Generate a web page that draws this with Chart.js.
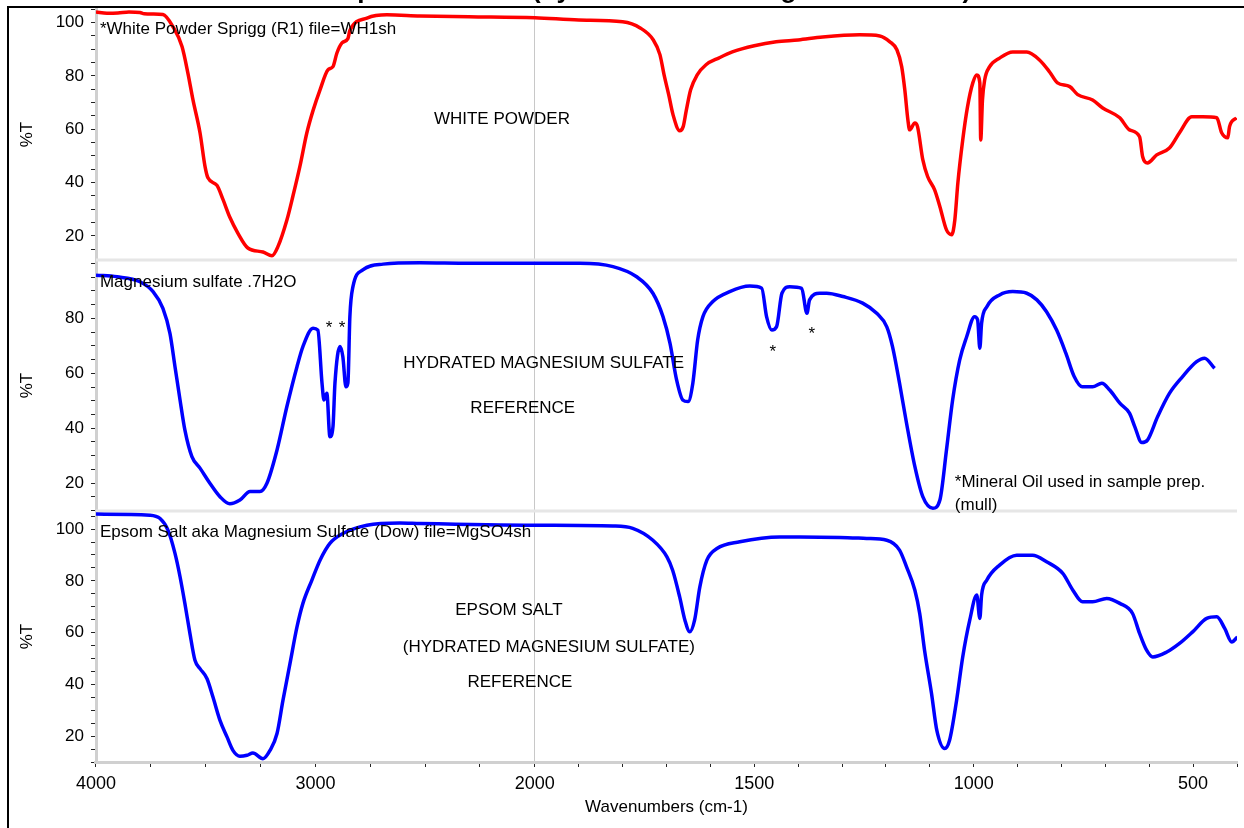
<!DOCTYPE html>
<html>
<head>
<meta charset="utf-8">
<script src="https://cdn.jsdelivr.net/npm/chart.js@4.4.0/dist/chart.umd.min.js"></script>
<style>
  html, body { margin: 0; padding: 0; background: #fff; overflow: hidden; }
  #wrap { position: relative; width: 1244px; height: 828px; }
</style>
</head>
<body>
<div id="wrap"><canvas id="spectres" width="1244" height="828"></canvas></div>
<script>
// ---- Spectre 1 : poudre blanche (rouge) ----
const powderWn = [4000, 3950, 3900, 3850, 3800, 3780, 3740, 3695, 3649, 3608, 3581, 3558, 3526, 3503, 3490, 3449, 3421, 3390, 3353, 3308, 3239, 3198, 3171, 3130, 3103, 3071, 3039, 3011, 2979, 2943, 2920, 2902, 2879, 2852, 2843, 2765, 2674, 2524, 2300, 2000,
  1900, 1800, 1760, 1730, 1715, 1705, 1695, 1685, 1670, 1662, 1655, 1645, 1630, 1610, 1580, 1550, 1500, 1450, 1400, 1344, 1260, 1214, 1191, 1175, 1164, 1157, 1150, 1146, 1134, 1128, 1116, 1105, 1089, 1077, 1062, 1050, 1043, 1036, 1025, 1014, 1002, 993, 986, 984, 980, 975, 964, 941, 911, 879, 850, 827, 809, 781, 763, 729, 706, 667, 645, 622, 615, 604, 583, 554, 531, 503, 478, 446, 435, 421, 417, 401];
const powderT = [104.0, 103.5, 103.6, 104.0, 103.8, 103.3, 103.2, 103.0, 98.4, 91, 81, 71, 58.7, 46, 41.8, 39, 33.6, 27, 21, 15.5, 14, 12.6, 16, 26, 34.8, 46, 58.7, 67, 74.8, 82.3, 83.5, 88.6, 92.4, 94, 97, 101.7, 102.9, 102.5, 102.2, 101.8,
  101, 100.3, 98, 93.5, 88, 80, 73, 65.4, 59.5, 61, 67, 74.8, 80.4, 84.2, 86.8, 89, 91.3, 92.8, 93.5, 94.6, 95.4, 95, 92.8, 89.8, 83.4, 74.8, 63.6, 59.8, 62.4, 61, 48.6, 42.3, 37.3, 31, 22.3, 20.5, 26, 40, 56, 68.5, 77.4, 80.4, 77.4, 56, 71, 78.5, 83.4, 86.7, 89, 89, 86, 81.5, 77.4, 76, 73, 71, 68, 64.3, 59.8, 57.2, 49.7, 47.4, 50.4, 53, 58.7, 64.7, 64.7, 64.3, 58.7, 56.8, 61, 64.3];

// ---- Spectre 2 : sulfate de magnésium 7H2O ----
const mgso4Wn = [4000, 3904, 3800, 3740, 3695, 3663, 3640, 3617, 3595, 3563, 3526, 3481, 3435, 3390, 3344, 3298, 3253, 3221, 3175, 3130, 3084, 3057, 3011, 2989, 2970, 2961, 2948, 2934, 2920, 2911, 2888, 2875, 2861, 2852, 2843, 2829, 2784, 2692, 2524, 2300, 2000,
  1897, 1822, 1768, 1731, 1708, 1692, 1677, 1663, 1651, 1640, 1629, 1617, 1595, 1556, 1510, 1483, 1472, 1460, 1449, 1437, 1419, 1392, 1380, 1374, 1351, 1335, 1298, 1253, 1221, 1198, 1185, 1169, 1153, 1134, 1116, 1093, 1077, 1062, 1048, 1032, 1016, 998, 991, 986, 982, 970, 941, 911, 879, 856, 834, 811, 790, 771, 753, 729, 708, 690, 667, 645, 633, 617, 604, 581, 554, 524, 492, 474, 451];
const mgso4T = [95.7, 95.1, 93.3, 89.7, 83.6, 74.5, 62.4, 50.3, 39.4, 29.7, 25.5, 20, 15.1, 12.5, 13.9, 17, 17, 20, 32.1, 47.9, 62.4, 69.7, 76.4, 75.7, 56.4, 50.3, 52.7, 36.9, 40.6, 56.4, 69.7, 66, 55.1, 56.5, 80.6, 91.5, 97.6, 99.7, 100.2, 100, 100,
  100, 98.8, 95.1, 89.1, 80.6, 70.9, 57.6, 50.3, 49.7, 56.4, 72.1, 80.6, 86, 89.7, 91.7, 90.9, 80.6, 75.7, 77, 89.1, 91.5, 90.9, 81.8, 86.7, 89.1, 89.1, 87.9, 85.5, 81.8, 76.9, 69.7, 56.4, 41.8, 26, 15.1, 10.9, 13.9, 32.1, 50.3, 64.8, 73.3, 80.6, 79.4, 69.1, 78.2, 84.2, 88.5, 89.7, 89.1, 86.7, 82.4, 75.7, 67.3, 58.8, 55.1, 55.1, 56.4, 53.9, 49.1, 45.5, 40.6, 34.8, 35.7, 44.2, 52.7, 58.8, 64.2, 65.5, 61.8];

// ---- Spectre 3 : sel d'Epsom ----
const epsomWn = [4000, 3754, 3708, 3672, 3640, 3617, 3595, 3572, 3549, 3526, 3494, 3467, 3435, 3403, 3376, 3344, 3312, 3285, 3239, 3207, 3175, 3148, 3116, 3084, 3057, 3016, 2979, 2934, 2875, 2765, 2615, 2524, 2000,
  1822, 1777, 1731, 1699, 1686, 1670, 1658, 1647, 1636, 1624, 1608, 1585, 1533, 1442, 1396, 1305, 1244, 1198, 1169, 1153, 1134, 1123, 1112, 1096, 1084, 1066, 1055, 1039, 1025, 1009, 993, 986, 982, 970, 941, 902, 866, 834, 797, 774, 752, 729, 697, 667, 638, 622, 606, 592, 560, 531, 501, 469, 446, 428, 412, 399];
const epsomT = [105.8, 105.4, 104.1, 99.6, 90.6, 81.6, 71.3, 59.7, 49.3, 46.1, 42.2, 35.1, 26.1, 19.7, 14.5, 12.2, 12.6, 13.5, 11.3, 14.5, 21, 33.8, 48, 62.2, 71.3, 80.3, 88, 94.5, 98.3, 101.5, 102.4, 102.2, 101.5,
  101.2, 100.3, 95.7, 89.3, 84.1, 73.8, 64.8, 60.3, 64.8, 77.7, 88, 92.5, 95.1, 97, 97, 96.8, 96.4, 95.7, 91.9, 85.4, 76.4, 67.4, 53.2, 36.4, 22.2, 15.2, 18.4, 33.8, 50.6, 64.8, 74.5, 65.5, 74.5, 80.3, 86.1, 89.9, 89.9, 87.4, 82.9, 76.4, 71.9, 71.9, 73.2, 71.3, 67.4, 59.7, 53.2, 50.6, 52.5, 55.8, 60.3, 65.5, 66.1, 61.6, 56.4, 58.3];

// ---- Graduations ----
const xTickLabels = [4000, 3000, 2000, 1500, 1000, 500];
const yTickLabels = [20, 40, 60, 80, 100];

// l'axe est compressé x2 au-dessus de 2000 cm-1
function versAxe(w) { return w <= 2000 ? w : 2000 + (w - 2000) / 2; }
function depuisAxe(u) { return u <= 2000 ? u : 2000 + (u - 2000) * 2; }

const xTicks = [];
for (let w = 4000; w > 2000; w -= 250) xTicks.push(w);
for (let w = 2000; w >= 400; w -= 100) xTicks.push(w);

function serie(wn, t) { return wn.map((w, i) => ({ x: versAxe(w), y: t[i] })); }

function axeY(min, max, weight) {
  return {
    type: 'linear', position: 'left', stack: 'panneaux', stackWeight: 1, weight,
    min, max,
    afterBuildTicks: s => {
      const t = [];
      for (let v = Math.ceil(min / 5) * 5; v <= max; v += 5) t.push({ value: v });
      s.ticks = t;
    },
    afterFit: s => { s.width = 88; s.paddingTop = 0; s.paddingBottom = 0; },
    ticks: {
      autoSkip: false, padding: 7, color: '#000', font: { size: 17 },
      callback: v => (yTickLabels.includes(v) && v <= max - 3) ? v : ''
    },
    grid: { drawOnChartArea: false, tickLength: 5, tickColor: '#222' },
    border: { color: '#d0d0d0', width: 3 },
    title: { display: true, text: '%T', color: '#000', font: { size: 17 }, padding: { top: 9, bottom: 2 } }
  };
}

const textes = [
  ['*White Powder Sprigg (R1) file=WH1sh', 3982, 97.6, 'yA', 'left'],
  ['WHITE POWDER', 2150, 63.9, 'yA', 'center'],
  ['Magnesium sulfate .7H2O', 3982, 93.2, 'yB', 'left'],
  ['*', 2938, 76.5, 'yB', 'center'],
  ['*', 2879, 76.5, 'yB', 'center'],
  ['HYDRATED MAGNESIUM SULFATE', 1980, 63.7, 'yB', 'center'],
  ['REFERENCE', 2055, 47.4, 'yB', 'center'],
  ['*', 1458, 67.8, 'yB', 'center'],
  ['*', 1369, 74.3, 'yB', 'center'],
  ['*Mineral Oil used in sample prep.', 1043, 20.5, 'yB', 'left'],
  ['(mull)', 1043, 12.1, 'yB', 'left'],
  ['Epsom Salt aka Magnesium Sulfate (Dow) file=MgSO4sh', 3982, 98.8, 'yC', 'left'],
  ['EPSOM SALT', 2118, 68.7, 'yC', 'center'],
  ['(HYDRATED MAGNESIUM SULFATE)', 1968, 54.4, 'yC', 'center'],
  ['REFERENCE', 2068, 40.8, 'yC', 'center']
];

const decor = {
  id: 'decor',
  beforeDatasetsDraw(chart) {
    const ctx = chart.ctx, a = chart.chartArea;
    ctx.save();
    ctx.strokeStyle = '#e6e6e6';
    ctx.lineWidth = 3;
    ['yB', 'yC'].forEach(id => {
      const y = chart.scales[id].top;
      ctx.beginPath(); ctx.moveTo(a.left, y); ctx.lineTo(a.right, y); ctx.stroke();
    });
    ctx.restore();
  },
  afterDraw(chart) {
    const ctx = chart.ctx, sx = chart.scales.x;
    ctx.save();
    ctx.fillStyle = '#000';
    ctx.font = '17px "Liberation Sans", Arial, sans-serif';
    ctx.textBaseline = 'middle';
    textes.forEach(([txt, w, v, id, align]) => {
      ctx.textAlign = align;
      ctx.fillText(txt, sx.getPixelForValue(versAxe(w)), chart.scales[id].getPixelForValue(v));
    });
    // titre coupé en haut
    ctx.font = 'bold 26px "Liberation Sans", Arial, sans-serif';
    ctx.textBaseline = 'alphabetic';
    ctx.textAlign = 'left';
    const avant = 'White Powder IR Spectral Match ';
    const titre = avant + '(by Infrared Matching to Standards)';
    ctx.fillText(titre, 532 - ctx.measureText(avant).width, -2);
    // cadre
    ctx.strokeStyle = '#000';
    ctx.lineWidth = 2;
    ctx.beginPath();
    ctx.moveTo(1244, 7); ctx.lineTo(8, 7); ctx.lineTo(8, 828);
    ctx.stroke();
    ctx.restore();
  }
};

window.onload = () => {
  Chart.defaults.font.family = '"Liberation Sans", Arial, sans-serif';
  new Chart(document.getElementById('spectres'), {
    type: 'line',
    data: {
      datasets: [
        { data: serie(powderWn, powderT), yAxisID: 'yA', borderColor: '#ff0000' },
        { data: serie(mgso4Wn, mgso4T), yAxisID: 'yB', borderColor: '#0000ff' },
        { data: serie(epsomWn, epsomT), yAxisID: 'yC', borderColor: '#0000ff' }
      ]
    },
    options: {
      responsive: false,
      animation: false,
      devicePixelRatio: 1,
      parsing: false,
      layout: { padding: { left: 8, top: 9, right: 7, bottom: 0 } },
      elements: {
        point: { radius: 0 },
        line: { borderWidth: 3.5, tension: 0.3, cubicInterpolationMode: 'monotone', fill: false }
      },
      plugins: { legend: { display: false }, tooltip: { enabled: false } },
      scales: {
        x: {
          type: 'linear', reverse: true,
          min: versAxe(400), max: versAxe(4000),
          afterBuildTicks: s => { s.ticks = xTicks.map(w => ({ value: versAxe(w) })); },
          afterFit: s => { s.height = 66; },
          ticks: {
            autoSkip: false, maxRotation: 0, padding: 6, color: '#000', font: { size: 18 },
            callback: v => xTickLabels.includes(depuisAxe(v)) ? depuisAxe(v) : ''
          },
          grid: {
            color: c => (c.tick && depuisAxe(c.tick.value) === 2000) ? '#c8c8c8' : 'rgba(0,0,0,0)',
            tickColor: '#222', tickLength: 5, lineWidth: 1
          },
          border: { color: '#d0d0d0', width: 3 },
          title: { display: true, text: 'Wavenumbers (cm-1)', color: '#000', font: { size: 17 }, padding: { top: 2, bottom: 10 } }
        },
        yC: axeY(10, 107, 1),
        yB: axeY(9.9, 101.2, 2),
        yA: axeY(11, 105.1, 3)
      }
    },
    plugins: [decor]
  });
};
</script>
</body>
</html>
